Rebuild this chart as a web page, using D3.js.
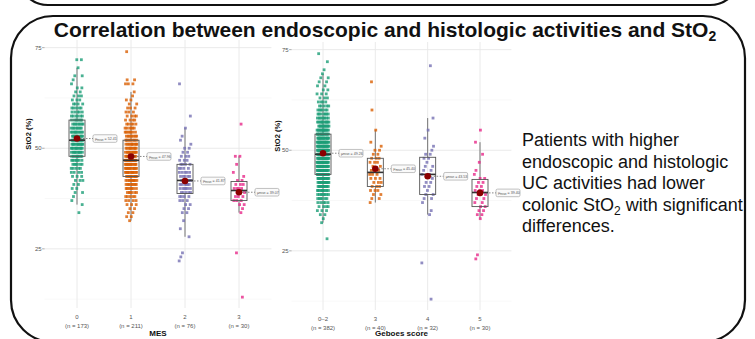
<!DOCTYPE html>
<html>
<head>
<meta charset="utf-8">
<script src="https://cdn.jsdelivr.net/npm/d3@7"></script>
<style>
  body { margin: 0; background: #fff; }
  svg { display: block; font-family: 'Liberation Sans', Arial, sans-serif; }
</style>
</head>
<body>
<svg id="chart" width="755" height="339"></svg>
<script>
// StO2 values as [value, count] rows
const mes0 = [[34,1],[36,1],[37,1],[38,1],[39,2],[40,2],[41,2],[42,3],[43,3],[44,4],[45,5],[46,6],[47,7],[48,9],[49,10],[50,11],[51,12],[52,12],[53,11],[54,10],[55,8],[56,8],[57,7],[58,6],[59,5],[60,5],[61,4],[62,3],[63,3],[64,2],[65,2],[66,1],[67,1],[68,2],[70,1],[72,2]];
const mes1 = [[32,1],[33,2],[34,2],[35,2],[36,3],[37,4],[38,5],[39,6],[40,7],[41,8],[42,9],[43,10],[44,11],[45,12],[46,12],[47,13],[48,12],[49,11],[50,10],[51,10],[52,9],[53,8],[54,7],[55,6],[56,5],[57,4],[58,4],[59,3],[60,3],[61,2],[62,2],[63,1],[64,1],[66,3],[67,2],[74,1]];
const mes2 = [[22,1],[23,1],[24,1],[28,1],[30,1],[32,1],[34,2],[35,2],[36,2],[37,3],[38,4],[39,5],[40,6],[41,6],[42,6],[43,5],[44,5],[45,4],[46,4],[47,3],[48,3],[49,2],[50,2],[51,1],[52,1],[53,1],[55,1],[58,1],[66,1]];
const mes3 = [[13,1],[24,1],[34,1],[35,1],[36,2],[37,3],[38,3],[39,3],[40,4],[41,3],[42,2],[43,1],[44,1],[46,1],[48,2],[56,1]];

const geb02 = [[28,1],[32,1],[33,1],[34,2],[35,3],[36,4],[37,5],[38,6],[39,8],[40,10],[41,12],[42,14],[43,16],[44,18],[45,19],[46,20],[47,21],[48,22],[49,22],[50,21],[51,20],[52,19],[53,17],[54,15],[55,14],[56,12],[57,11],[58,8],[59,7],[60,6],[61,5],[62,4],[63,3],[64,3],[65,2],[66,2],[67,2],[68,2],[69,1],[70,1],[72,1],[74,1]];
const geb3 = [[37,1],[38,2],[39,2],[40,3],[41,3],[42,3],[43,3],[44,3],[45,3],[46,2],[47,3],[48,3],[49,2],[50,2],[51,1],[52,1],[55,1],[60,1],[67,1]];
const geb4 = [[13,1],[22,1],[34,1],[35,1],[37,1],[38,2],[39,2],[40,1],[41,2],[42,2],[43,1],[44,2],[45,2],[46,2],[47,1],[48,2],[49,2],[50,1],[51,1],[53,1],[55,1],[58,1],[71,1]];
const geb5 = [[23,1],[24,1],[33,1],[34,2],[35,2],[36,2],[37,2],[38,2],[39,2],[40,3],[41,2],[42,2],[43,2],[44,1],[45,1],[47,1],[49,1],[52,1],[55,1]];

const mesLabels = ['0', '1', '2', '3'];
const mesN = [173, 211, 76, 30];
const gebLabels = ['0\u20132', '3', '4', '5'];
const gebN = [382, 40, 32, 30];
const yTicks = [25, 50, 75];
const yMinor = [12.5, 37.5, 62.5];

const groupColors = ['#1b9e77', '#d95f02', '#7570b3', '#e7298a'];

const summary = 'Patients with higher|endoscopic and histologic|UC activities had lower|colonic StO\u2082 with significant|differences.';

const svg = d3.select('#chart');

// outer frames of the slide
svg.append('rect')
  .attr('x', 18).attr('y', -80).attr('width', 722).attr('height', 85)
  .attr('rx', 30)
  .attr('fill', 'none').attr('stroke', '#111').attr('stroke-width', 2.2);
svg.append('rect')
  .attr('x', 11).attr('y', 16).attr('width', 734).attr('height', 326)
  .attr('rx', 42)
  .attr('fill', 'none').attr('stroke', '#111').attr('stroke-width', 2.2);

const title = svg.append('text')
  .attr('x', 385).attr('y', 37)
  .attr('text-anchor', 'middle')
  .style('font-size', '21px')
  .style('font-weight', 'bold')
  .attr('fill', '#111');
title.append('tspan').text('Correlation between endoscopic and histologic activities and StO');
title.append('tspan').attr('dy', 4).style('font-size', '14px').text('2');

// right hand summary text
const lines = summary.split('|');
lines.forEach((line, i) => {
  const t = svg.append('text')
    .attr('x', 522).attr('y', 146 + i * 21.5)
    .style('font-size', '18px')
    .attr('fill', '#111');
  if (line.indexOf('\u2082') >= 0) {
    const parts = line.split('\u2082');
    t.append('tspan').text(parts[0]);
    t.append('tspan').attr('dy', 4).style('font-size', '12px').text('2');
    t.append('tspan').attr('dy', -4).text(parts[1]);
  } else {
    t.text(line);
  }
});

/**
 * expands [value, count] rows into a flat list of points with a
 * deterministic horizontal spread for the jitter
 */
function expand(rows) {
  const pts = [];
  rows.forEach(([v, c]) => {
    for (let k = 0; k < c; k++) {
      pts.push({v: v, j: ((k * 0.618034 + v * 0.137) % 1) - 0.5});
    }
  });
  return pts;
}

/**
 * draws one box plot panel
 */
function drawPanel(opts) {
  const g = svg.append('g');
  const x = d3.scalePoint().domain(opts.labels).range(opts.xRange).padding(0.6);
  const y = d3.scaleLinear().domain([10.3, 76.9]).range(opts.yRange);
  const [x0, x1] = x.range();

  // grid
  g.selectAll('.minor').data(yMinor).join('line')
    .attr('x1', x0).attr('x2', x1)
    .attr('y1', d => y(d)).attr('y2', d => y(d))
    .attr('stroke', '#f3f3f3').attr('stroke-width', 0.6);
  g.selectAll('.major').data(yTicks).join('line')
    .attr('x1', x0).attr('x2', x1)
    .attr('y1', d => y(d)).attr('y2', d => y(d))
    .attr('stroke', '#e8e8e8').attr('stroke-width', 0.9);
  g.selectAll('.vgrid').data(opts.labels).join('line')
    .attr('x1', d => x(d)).attr('x2', d => x(d))
    .attr('y1', opts.yRange[1]).attr('y2', opts.yRange[0])
    .attr('stroke', '#e8e8e8').attr('stroke-width', 0.9);

  // y axis labels
  g.selectAll('.ytick').data(yTicks).join('text')
    .attr('x', x0 - 3).attr('y', d => y(d) + 2)
    .attr('text-anchor', 'end')
    .style('font-size', '6px')
    .attr('fill', '#555')
    .text(d => d);
  g.selectAll('.ytm').data(yTicks).join('line')
    .attr('x1', x0 - 2.5).attr('x2', x0)
    .attr('y1', d => y(d)).attr('y2', d => y(d))
    .attr('stroke', '#777').attr('stroke-width', 0.6);

  // x axis labels
  opts.labels.forEach((lab, i) => {
    g.append('text')
      .attr('x', x(lab)).attr('y', opts.yRange[0] + 11)
      .attr('text-anchor', 'middle')
      .style('font-size', '6px').attr('fill', '#555')
      .text(lab);
    g.append('text')
      .attr('x', x(lab)).attr('y', opts.yRange[0] + 19.5)
      .attr('text-anchor', 'middle')
      .style('font-size', '6px').attr('fill', '#555')
      .text('(n = ' + opts.n[i] + ')');
  });

  g.append('text')
    .attr('x', (x0 + x1) / 2).attr('y', 336)
    .attr('text-anchor', 'middle')
    .style('font-size', '8px').style('font-weight', 'bold')
    .attr('fill', '#111')
    .text(opts.xTitle);
  g.append('text')
    .attr('transform', 'translate(' + opts.yTitleX + ',' + ((opts.yRange[0] + opts.yRange[1]) / 2 - 40) + ') rotate(-90)')
    .attr('text-anchor', 'middle')
    .style('font-size', '7.5px').style('font-weight', 'bold')
    .attr('fill', '#111')
    .text('StO2 (%)');

  const bw = 8;
  opts.data.forEach((rows, i) => {
    const cx = x(opts.labels[i]);
    const vals = [];
    rows.forEach(([v, c]) => { for (let k = 0; k < c; k++) vals.push(v); });
    vals.sort(d3.ascending);
    const q1 = d3.quantile(vals, 0.25);
    const med = d3.quantile(vals, 0.5);
    const q3 = d3.quantile(vals, 0.75);
    const iqr = q3 - q1;
    const lo = d3.min(vals.filter(v => v >= q1 - 1.5 * iqr));
    const hi = d3.max(vals.filter(v => v <= q3 + 1.5 * iqr));
    const mean = d3.mean(vals);

    // whiskers
    g.append('line')
      .attr('x1', cx).attr('x2', cx).attr('y1', y(hi)).attr('y2', y(q3))
      .attr('stroke', '#666').attr('stroke-width', 0.9);
    g.append('line')
      .attr('x1', cx).attr('x2', cx).attr('y1', y(q1)).attr('y2', y(lo))
      .attr('stroke', '#666').attr('stroke-width', 0.9);

    // jittered points
    g.selectAll('.pt' + i).data(expand(rows)).join('rect')
      .attr('x', d => cx + d.j * 12 - 1.4)
      .attr('y', d => y(d.v) - 1.4)
      .attr('width', 2.8).attr('height', 2.8)
      .attr('fill', groupColors[i])
      .attr('fill-opacity', 0.8);

    // box
    g.append('rect')
      .attr('x', cx - bw).attr('y', y(q3))
      .attr('width', bw * 2).attr('height', y(q1) - y(q3))
      .attr('fill', 'none').attr('stroke', '#555').attr('stroke-width', 0.9);
    g.append('line')
      .attr('x1', cx - bw).attr('x2', cx + bw).attr('y1', y(med)).attr('y2', y(med))
      .attr('stroke', '#333').attr('stroke-width', 1.6);

    // mean marker with dashed leader and label
    const lx = cx + 16;
    g.append('line')
      .attr('x1', cx).attr('x2', lx).attr('y1', y(mean)).attr('y2', y(mean))
      .attr('stroke', '#555').attr('stroke-width', 0.7)
      .attr('stroke-dasharray', '1.5,1.5');
    g.append('circle')
      .attr('cx', cx).attr('cy', y(mean)).attr('r', 3.3)
      .attr('fill', '#8b0000');
    g.append('rect')
      .attr('x', lx).attr('y', y(mean) - 3.8)
      .attr('width', 24).attr('height', 7.6).attr('rx', 1.5)
      .attr('fill', '#fafafa').attr('stroke', '#999').attr('stroke-width', 0.6);
    const lt = g.append('text')
      .attr('x', lx + 2).attr('y', y(mean) + 1.3)
      .style('font-size', '3.6px').attr('fill', '#555');
    lt.append('tspan').text('\u03bc');
    lt.append('tspan').attr('dy', 0.8).style('font-size', '2.6px').text('mean');
    lt.append('tspan').attr('dy', -0.8).text(' = ' + mean.toFixed(2));
  });
}

drawPanel({
  labels: mesLabels, n: mesN, data: [mes0, mes1, mes2, mes3],
  xRange: [44.6, 271.4], yRange: [308, 40],
  xTitle: 'MES', yTitleX: 31
});
drawPanel({
  labels: gebLabels, n: gebN, data: [geb02, geb3, geb4, geb5],
  xRange: [291.6, 511.4], yRange: [310, 42],
  xTitle: 'Geboes score', yTitleX: 280
});
</script>
</body>
</html>
